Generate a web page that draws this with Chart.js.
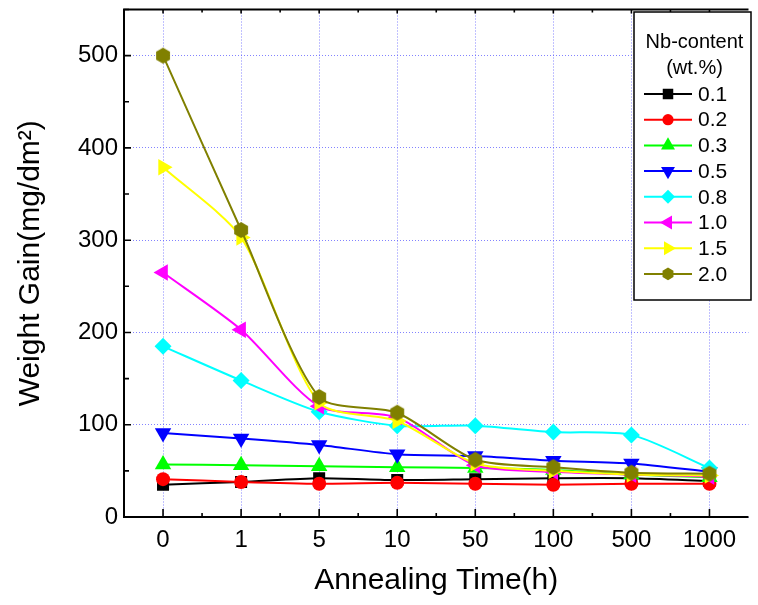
<!DOCTYPE html>
<html>
<head>
<meta charset="utf-8">
<script src="https://cdn.jsdelivr.net/npm/chart.js@4.4.1/dist/chart.umd.min.js"></script>
<style>
  html, body { margin: 0; padding: 0; background: #fff; }
  canvas { display: block; }
</style>
</head>
<body>
<canvas id="chart" width="758" height="605"></canvas>
<script>
// annealing time categories (h) and weight gain (mg/dm2) per Nb content
const categories = ['0', '1', '5', '10', '50', '100', '500', '1000'];
const nbLabels = ['0.1', '0.2', '0.3', '0.5', '0.8', '1.0', '1.5', '2.0'];
const nb01 = [35, 38, 42, 40, 41, 42, 42, 39];
const nb02 = [41, 38, 36, 37, 36, 35, 36, 36];
const nb03 = [57, 56, 55, 54, 53, 51, 46, 43];
const nb05 = [91, 85, 78, 68, 66, 61, 58, 49];
const nb08 = [185, 148, 114, 99, 99, 92, 89, 53];
const nb10 = [265, 203, 120, 108, 56, 49, 46, 44];
const nb15 = [379, 303, 124, 104, 58, 50, 46, 45];
const nb20 = [500, 311, 130, 113, 62, 54, 48, 47];
const yTicks = [0, 100, 200, 300, 400, 500];

const seriesValues = [nb01, nb02, nb03, nb05, nb08, nb10, nb15, nb20];
const seriesColors = ['#000000', '#ff0000', '#00ff00', '#0000ff', '#00ffff', '#ff00ff', '#ffff00', '#808000'];
const seriesShapes = ['square', 'circle', 'up', 'down', 'diamond', 'left', 'right', 'hexagon'];

const FONT = 'Liberation Sans, Arial, sans-serif';

function hexPath(ctx, x, y, r) {
  ctx.beginPath();
  for (let k = 0; k < 6; k++) {
    const a = -Math.PI / 2 + k * Math.PI / 3;
    const px = x + r * Math.cos(a), py = y + r * Math.sin(a);
    if (k === 0) ctx.moveTo(px, py); else ctx.lineTo(px, py);
  }
  ctx.closePath();
}

function hexCanvas(r, color) {
  const c = document.createElement('canvas');
  c.width = c.height = Math.ceil(2 * r + 2);
  const g = c.getContext('2d');
  g.fillStyle = color;
  hexPath(g, c.width / 2, c.height / 2, r);
  g.fill();
  return c;
}

// chart.js point style for each shape
function pointStyleOf(shape, color) {
  switch (shape) {
    case 'square': return { pointStyle: 'rect', rotation: 0, radius: 8.5 };
    case 'circle': return { pointStyle: 'circle', rotation: 0, radius: 7 };
    case 'up': return { pointStyle: 'triangle', rotation: 0, radius: 9.5 };
    case 'down': return { pointStyle: 'triangle', rotation: 180, radius: 9.5 };
    case 'diamond': return { pointStyle: 'rectRot', rotation: 0, radius: 8.5 };
    case 'left': return { pointStyle: 'triangle', rotation: 270, radius: 9.5 };
    case 'right': return { pointStyle: 'triangle', rotation: 90, radius: 9.5 };
    case 'hexagon': return { pointStyle: hexCanvas(8, color), rotation: 0, radius: 8 };
  }
}

// small marker for the legend box
function drawMarker(ctx, shape, x, y, s, color) {
  ctx.fillStyle = color;
  ctx.beginPath();
  const tri = (deg) => {
    for (let k = 0; k < 3; k++) {
      const a = (deg + k * 120) * Math.PI / 180;
      const px = x + Math.sin(a) * s * 1.15, py = y - Math.cos(a) * s * 1.15;
      if (k === 0) ctx.moveTo(px, py); else ctx.lineTo(px, py);
    }
    ctx.closePath();
  };
  switch (shape) {
    case 'square': ctx.rect(x - s * 0.75, y - s * 0.75, s * 1.5, s * 1.5); break;
    case 'circle': ctx.arc(x, y, s * 0.8, 0, Math.PI * 2); break;
    case 'up': tri(0); break;
    case 'down': tri(180); break;
    case 'left': tri(270); break;
    case 'right': tri(90); break;
    case 'diamond':
      ctx.moveTo(x, y - s); ctx.lineTo(x + s, y); ctx.lineTo(x, y + s); ctx.lineTo(x - s, y);
      ctx.closePath(); break;
    case 'hexagon': hexPath(ctx, x, y, s * 0.9); break;
  }
  ctx.fill();
}

const frameAndLegend = {
  id: 'frameAndLegend',
  afterDraw(chart) {
    const { ctx, chartArea: a, scales } = chart;
    const x = scales.x, y = scales.y;
    ctx.save();

    // axes frame
    ctx.strokeStyle = '#000';
    ctx.lineWidth = 2;
    ctx.beginPath();
    ctx.moveTo(a.right, a.top); ctx.lineTo(a.left, a.top);
    ctx.lineTo(a.left, a.bottom); ctx.lineTo(a.right, a.bottom);
    ctx.stroke();

    // inward ticks
    ctx.lineWidth = 1.6;
    ctx.beginPath();
    for (let v = 0; v <= 550; v += 50) {
      const py = y.getPixelForValue(v);
      const len = v % 100 === 0 ? 7 : 5;
      ctx.moveTo(a.left, py); ctx.lineTo(a.left + len, py);
    }
    const step = (a.right - a.left) / categories.length;
    categories.forEach((c, i) => {
      const px = x.getPixelForValue(i);
      ctx.moveTo(px, a.bottom); ctx.lineTo(px, a.bottom - 8);
      ctx.moveTo(px, a.top); ctx.lineTo(px, a.top + 4);
      if (i > 0) {
        const mx = a.left + i * step;
        ctx.moveTo(mx, a.bottom); ctx.lineTo(mx, a.bottom - 4);
        ctx.moveTo(mx, a.top); ctx.lineTo(mx, a.top + 3);
      }
    });
    ctx.stroke();

    // legend box
    const bx = 634, by = 12, bw = 117, bh = 288;
    ctx.fillStyle = '#fff';
    ctx.fillRect(bx, by, bw, bh);
    ctx.strokeStyle = '#000';
    ctx.lineWidth = 1.5;
    ctx.strokeRect(bx, by, bw, bh);

    ctx.fillStyle = '#000';
    ctx.font = '20px ' + FONT;
    ctx.textAlign = 'center';
    ctx.textBaseline = 'middle';
    ctx.fillText('Nb-content', bx + bw / 2 + 2, 42);
    ctx.fillText('(wt.%)', bx + bw / 2 + 2, 68);

    ctx.font = '21px ' + FONT;
    ctx.textAlign = 'left';
    nbLabels.forEach((lab, i) => {
      const ry = 94 + i * 25.7;
      ctx.strokeStyle = seriesColors[i];
      ctx.lineWidth = 2;
      ctx.beginPath();
      ctx.moveTo(644, ry); ctx.lineTo(692, ry);
      ctx.stroke();
      drawMarker(ctx, seriesShapes[i], 668, ry, 7, seriesColors[i]);
      ctx.fillStyle = '#000';
      ctx.fillText(lab, 698, ry + 1);
    });

    ctx.restore();
  }
};

const datasets = seriesValues.map((vals, i) => {
  const ps = pointStyleOf(seriesShapes[i], seriesColors[i]);
  return {
    label: nbLabels[i],
    data: vals,
    borderColor: seriesColors[i],
    backgroundColor: seriesColors[i],
    borderWidth: 2,
    pointStyle: ps.pointStyle,
    pointRotation: ps.rotation,
    pointRadius: ps.radius,
    pointHoverRadius: ps.radius,
    pointBorderWidth: 0,
    tension: 0.25,
    order: seriesValues.length - i
  };
});

new Chart(document.getElementById('chart'), {
  type: 'line',
  data: { labels: categories, datasets },
  options: {
    responsive: false,
    animation: false,
    events: [],
    layout: { padding: { top: 9, right: 0, left: 0, bottom: 0 } },
    plugins: { legend: { display: false }, tooltip: { enabled: false } },
    scales: {
      x: {
        type: 'category',
        offset: true,
        grid: { offset: false, color: 'rgba(90,90,255,0.75)', lineWidth: 1, drawTicks: false },
        border: { display: false, dash: [1, 2] },
        ticks: { color: '#000', font: { family: FONT, size: 24 }, padding: 9, maxRotation: 0, autoSkip: false },
        title: { display: true, text: 'Annealing Time(h)', color: '#000', font: { family: FONT, size: 30 }, padding: { top: 0, bottom: 6 } },
        afterFit: s => { s.height = 88; s.paddingLeft = 0; s.paddingRight = 0; }
      },
      y: {
        min: 0,
        max: 550,
        afterBuildTicks: s => { s.ticks = yTicks.map(v => ({ value: v })); },
        grid: { color: 'rgba(90,90,255,0.75)', lineWidth: 1, drawTicks: false },
        border: { display: false, dash: [1, 2] },
        ticks: { color: '#000', font: { family: FONT, size: 24 }, padding: 6 },
        title: { display: true, text: 'Weight Gain(mg/dm²)', color: '#000', font: { family: FONT, size: 30 }, padding: { top: 13, bottom: 0 } },
        afterFit: s => { s.width = 124; s.paddingTop = 0; s.paddingBottom = 0; }
      }
    }
  },
  plugins: [frameAndLegend]
});
</script>
</body>
</html>
